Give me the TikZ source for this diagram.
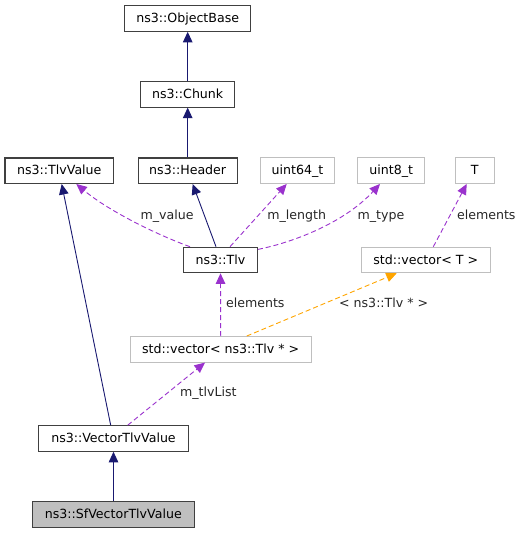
\documentclass[tikz,border=0pt]{standalone}
\usepackage{fontspec}
\setmainfont{DejaVu Sans}
\usetikzlibrary{arrows.meta}
\definecolor{navy}{HTML}{191970}
\definecolor{orchid}{HTML}{9A32CD}
\definecolor{orng}{HTML}{FFA500}
\definecolor{extgray}{HTML}{BFBFBF}
\definecolor{boxborder}{HTML}{404040}
\begin{document}
\begin{tikzpicture}[x=1pt,y=-1pt,
  font=\fontsize{12.6}{15}\selectfont,
  cls/.style={draw=boxborder,line width=1.1pt,fill=white,minimum height=25.5pt,inner ysep=0pt,inner xsep=0pt,text height=8.4pt,text depth=0pt,anchor=center},
  ext/.style={cls,draw=extgray,line width=1pt},
  cur/.style={cls,fill=extgray},
  tip/.style={-{Triangle[length=10.5pt,width=9.5pt]}},
  inherit/.style={tip,draw=navy,line width=0.9pt},
  usage/.style={tip,draw=orchid,line width=0.9pt,dash pattern=on 5pt off 3pt},
  templ/.style={tip,draw=orng,line width=0.9pt,dash pattern=on 5pt off 3pt},
  lbl/.style={inner sep=0pt,anchor=base,text=black!85}]
\useasboundingbox (0,0) rectangle (527,533);
% nodes
\node[cls,minimum width=126pt] (objbase) at (187.7,18.5) {ns3::ObjectBase};
\node[cls,minimum width=94pt] (chunk) at (187.7,94.3) {ns3::Chunk};
\node[cls,minimum width=108.7pt] (tlvvalue) at (59.3,170.7) {ns3::TlvValue};
\node[cls,minimum width=99.3pt] (header) at (187.7,170.7) {ns3::Header};
\node[ext,minimum width=74.3pt] (u64) at (297.5,170.7) {uint64\_t};
\node[ext,minimum width=66.7pt] (u8) at (391.3,170.7) {uint8\_t};
\node[ext,minimum width=38.7pt] (T) at (474.7,170.7) {T};
\node[cls,minimum width=73.7pt] (tlv) at (220.5,260) {ns3::Tlv};
\node[ext,minimum width=128.7pt] (vecT) at (425.7,260) {std::vector< T >};
\node[ext,minimum width=181.3pt] (vecTlv) at (220.7,349.3) {std::vector< ns3::Tlv * >};
\node[cls,minimum width=149.7pt] (vtv) at (113.5,438.5) {ns3::VectorTlvValue};
\node[cur,minimum width=162pt] (sfvtv) at (113.3,514.5) {ns3::SfVectorTlvValue};
% inheritance
\draw[inherit] (chunk.north) -- (objbase.south);
\draw[inherit] (header.north) -- (chunk.south);
\draw[inherit] ([xshift=-4.5pt]tlv.north) -- ([xshift=5pt]header.south);
\draw[inherit] ([xshift=-2.8pt]vtv.north) -- ([xshift=2.4pt]tlvvalue.south);
\draw[inherit] ([xshift=0.2pt]sfvtv.north) -- (vtv.south);
% usage
\draw[usage] ([xshift=-30.5pt]tlv.north) .. controls (160,236) and (110,212) .. ([xshift=17pt]tlvvalue.south);
\node[lbl] (lvalue) at (167,219.5) {m\_value};
\draw[usage] ([xshift=9.5pt]tlv.north) -- ([xshift=-10.8pt]u64.south);
\node[lbl] (llength) at (296.7,219.5) {m\_length};
\draw[usage] ([yshift=-2.7pt]tlv.north east) .. controls (295,242) and (345,222) .. ([xshift=-11.3pt]u8.south);
\node[lbl] (ltype) at (381,219.5) {m\_type};
\draw[usage] ([xshift=7.6pt]vecT.north) -- ([xshift=-8pt]T.south);
\node[lbl] (lelemT) at (486.3,219.5) {elements};
\draw[usage] (vecTlv.north) -- (tlv.south);
\node[lbl] (lelem) at (255.3,307.7) {elements};
\draw[templ] ([xshift=26pt]vecTlv.north) -- ([xshift=-29pt]vecT.south);
\node[lbl] (ltempl) at (383.7,307.7) {< ns3::Tlv * >};
\draw[usage] ([xshift=14.2pt]vtv.north) -- ([xshift=-15.7pt]vecTlv.south);
\node[lbl] (llist) at (208.3,396.7) {m\_tlvList};
\end{tikzpicture}
\end{document}
